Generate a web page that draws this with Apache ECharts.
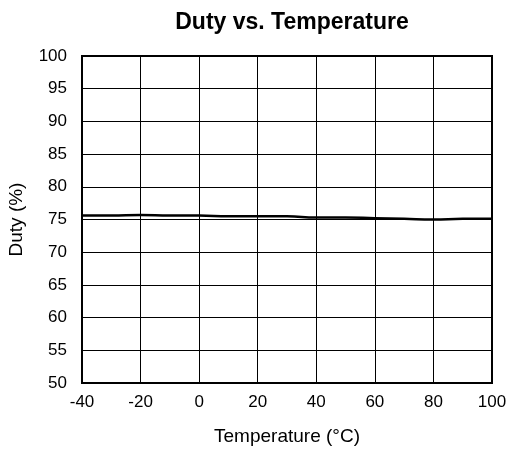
<!DOCTYPE html>
<html>
<head>
<meta charset="utf-8">
<script src="https://cdn.jsdelivr.net/npm/echarts@6/dist/echarts.min.js"></script>
<style>
  html, body { margin: 0; padding: 0; background: #fff; }
  #main { width: 511px; height: 450px; }
</style>
</head>
<body>
<div id="main"></div>
<script>
// temperature (°C) and duty (%)
var temperature = [-40, -30, -20, -10, 0, 10, 20, 30, 40, 50, 60, 70, 80, 90, 100]
var duty = [75.6, 75.6, 75.7, 75.6, 75.6, 75.5, 75.5, 75.5, 75.3, 75.3, 75.2, 75.1, 75.0, 75.1, 75.1]

var chart = echarts.init(document.getElementById('main'))
var font = 'Liberation Sans, Arial, sans-serif'

var option = {
    animation: false,
    backgroundColor: '#fff',
    title: {
        text: 'Duty vs. Temperature',
        left: 287,
        top: 6,
        textAlign: 'center',
        textStyle: { fontFamily: font, fontSize: 23, fontWeight: 'bold', color: '#000' }
    },
    grid: {
        left: 82, top: 56, width: 410, height: 327,
        outerBoundsMode: 'none',
        show: true, borderColor: '#000', borderWidth: 2, backgroundColor: 'transparent'
    },
    xAxis: {
        type: 'value',
        min: -40,
        max: 100,
        interval: 20,
        name: 'Temperature (°C)',
        nameLocation: 'middle',
        nameGap: 44,
        nameTextStyle: { fontFamily: font, fontSize: 19, color: '#000' },
        axisLine: { show: false },
        axisTick: { show: false },
        axisLabel: { fontFamily: font, fontSize: 17, color: '#000', margin: 11 },
        splitLine: { show: true, lineStyle: { color: '#000', width: 1 } }
    },
    yAxis: {
        type: 'value',
        min: 50,
        max: 100,
        interval: 5,
        name: 'Duty (%)',
        nameLocation: 'middle',
        nameGap: 56,
        nameTextStyle: { fontFamily: font, fontSize: 19, color: '#000' },
        axisLine: { show: false },
        axisTick: { show: false },
        axisLabel: { fontFamily: font, fontSize: 17, color: '#000', margin: 15 },
        splitLine: { show: true, lineStyle: { color: '#000', width: 1 } }
    },
    series: [
        {
            type: 'line',
            data: temperature.map(function (t, i) { return [t, duty[i]] }),
            smooth: true,
            showSymbol: false,
            lineStyle: { color: '#000', width: 2.5 }
        }
    ]
}

chart.setOption(option)
</script>
</body>
</html>
